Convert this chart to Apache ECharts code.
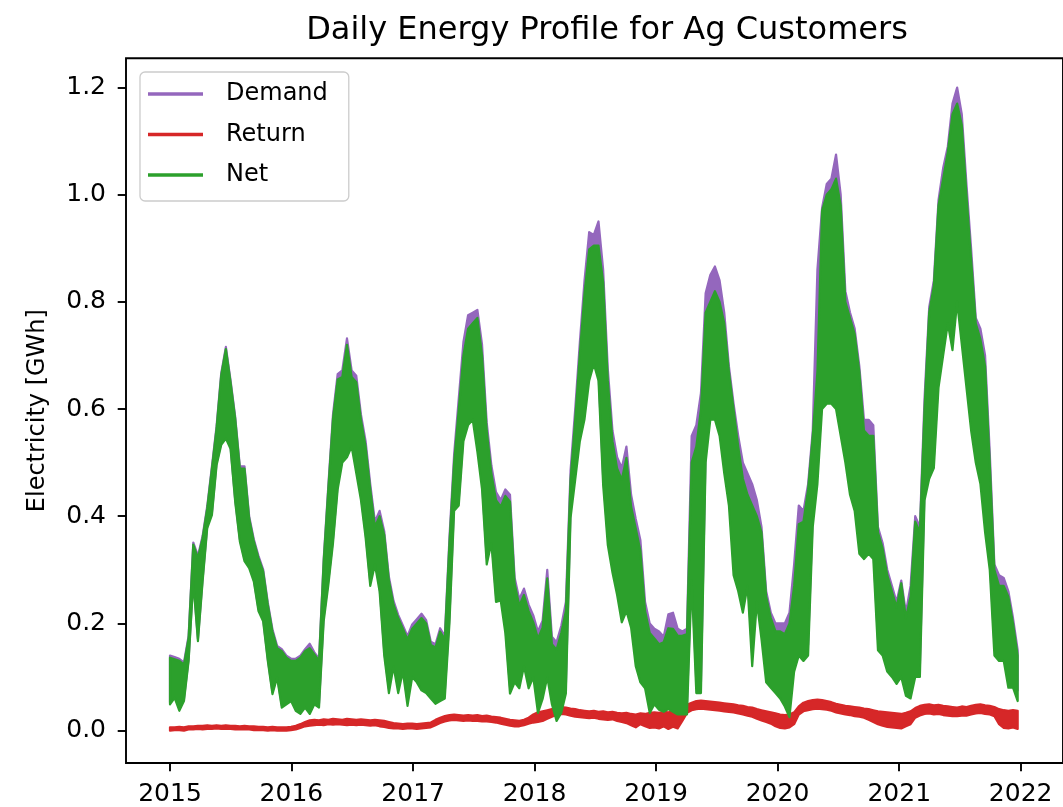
<!DOCTYPE html>
<html>
<head>
<meta charset="utf-8">
<script src="https://cdn.jsdelivr.net/npm/echarts@6/dist/echarts.min.js"></script>
<style>
  html, body { margin: 0; padding: 0; background: #fff; }
  #chart { width: 1063px; height: 807px; }
</style>
</head>
<body>
<div id="chart"></div>
<script>
// ---- Data (GWh) ----
// One sample every 14 days from 2015-01-01; for each sample the upper (High)
// and lower (Low) edge of the noisy daily band.
const sampleStart = '2015-01-01';
const sampleStepDays = 14;

const netHigh = [
  0.136,0.133,0.130,0.123,0.173,0.347,0.322,0.359,0.415,0.489,0.564,0.663,0.712,0.650,0.582,0.489,0.489,0.396,0.353,0.322,0.297,0.235,0.185,0.154,0.148,0.136,
  0.130,0.130,0.136,0.148,0.154,0.142,0.130,0.316,0.452,0.582,0.655,0.660,0.720,0.660,0.650,0.580,0.530,0.450,0.380,0.400,0.365,0.280,0.235,0.210,0.190,0.170,
  0.190,0.200,0.210,0.200,0.160,0.155,0.185,0.170,0.350,0.500,0.600,0.700,0.750,0.760,0.770,0.700,0.560,0.480,0.430,0.418,0.438,0.427,0.274,0.233,0.253,0.223,
  0.202,0.172,0.192,0.284,0.161,0.151,0.182,0.223,0.468,0.581,0.704,0.816,0.898,0.905,0.905,0.837,0.653,0.540,0.489,0.468,0.509,0.418,0.377,0.335,0.223,0.182,
  0.172,0.161,0.165,0.191,0.190,0.177,0.177,0.180,0.500,0.530,0.600,0.780,0.800,0.820,0.800,0.760,0.670,0.600,0.530,0.470,0.440,0.420,0.400,0.370,0.250,0.210,
  0.185,0.185,0.180,0.200,0.270,0.385,0.390,0.450,0.550,0.670,0.970,1.000,1.010,1.030,0.980,0.800,0.770,0.740,0.670,0.560,0.550,0.550,0.370,0.340,0.290,0.260,
  0.230,0.275,0.210,0.250,0.390,0.370,0.600,0.780,0.830,0.980,1.030,1.080,1.150,1.170,1.130,1.000,0.880,0.760,0.730,0.680,0.500,0.300,0.270,0.270,0.250,0.200,0.140
];
const netLow = [
  0.049,0.061,0.037,0.055,0.130,0.278,0.167,0.278,0.378,0.402,0.495,0.533,0.545,0.526,0.427,0.353,0.316,0.303,0.278,0.223,0.204,0.130,0.068,0.099,0.043,0.049,
  0.055,0.037,0.031,0.043,0.031,0.049,0.043,0.204,0.272,0.350,0.450,0.500,0.510,0.530,0.480,0.430,0.360,0.270,0.310,0.260,0.140,0.070,0.120,0.070,0.110,0.046,
  0.100,0.090,0.075,0.070,0.060,0.050,0.055,0.060,0.200,0.410,0.420,0.540,0.570,0.580,0.520,0.450,0.310,0.350,0.240,0.243,0.182,0.069,0.090,0.079,0.120,0.079,
  0.100,0.033,0.059,0.100,0.049,0.018,0.033,0.069,0.397,0.468,0.540,0.581,0.653,0.684,0.653,0.458,0.346,0.295,0.253,0.202,0.223,0.192,0.120,0.090,0.079,0.033,
  0.049,0.039,0.035,0.040,0.035,0.030,0.030,0.030,0.280,0.070,0.070,0.500,0.580,0.580,0.550,0.480,0.420,0.290,0.260,0.220,0.270,0.120,0.240,0.170,0.090,0.080,
  0.070,0.060,0.045,0.025,0.110,0.140,0.130,0.140,0.380,0.460,0.600,0.610,0.610,0.600,0.550,0.500,0.440,0.410,0.330,0.320,0.330,0.320,0.150,0.140,0.110,0.100,
  0.087,0.100,0.065,0.060,0.100,0.100,0.430,0.470,0.490,0.640,0.700,0.760,0.710,0.800,0.720,0.640,0.560,0.500,0.460,0.370,0.300,0.140,0.130,0.130,0.080,0.080,0.055
];
const demandHigh = [
  0.140,0.137,0.134,0.127,0.177,0.351,0.326,0.363,0.419,0.493,0.568,0.667,0.716,0.654,0.586,0.493,0.493,0.400,0.357,0.326,0.301,0.239,0.189,0.158,0.152,0.140,
  0.134,0.134,0.140,0.152,0.162,0.146,0.134,0.320,0.458,0.590,0.665,0.672,0.732,0.672,0.662,0.590,0.540,0.460,0.390,0.410,0.372,0.287,0.242,0.216,0.196,0.176,
  0.198,0.208,0.218,0.206,0.166,0.161,0.191,0.176,0.360,0.515,0.620,0.725,0.775,0.780,0.785,0.720,0.575,0.495,0.445,0.430,0.450,0.440,0.285,0.245,0.265,0.235,
  0.215,0.185,0.205,0.300,0.175,0.165,0.195,0.240,0.485,0.600,0.725,0.840,0.930,0.925,0.950,0.860,0.675,0.560,0.510,0.490,0.530,0.440,0.395,0.355,0.240,0.200,
  0.190,0.185,0.175,0.217,0.220,0.190,0.185,0.190,0.550,0.570,0.630,0.816,0.850,0.866,0.840,0.780,0.680,0.610,0.550,0.500,0.480,0.460,0.430,0.380,0.260,0.220,
  0.200,0.200,0.200,0.220,0.310,0.420,0.410,0.460,0.560,0.860,0.975,1.020,1.030,1.075,1.000,0.820,0.780,0.750,0.680,0.580,0.580,0.570,0.380,0.350,0.300,0.270,
  0.240,0.280,0.220,0.270,0.400,0.380,0.620,0.790,0.840,0.990,1.050,1.090,1.170,1.200,1.150,1.020,0.900,0.770,0.750,0.700,0.520,0.310,0.290,0.285,0.260,0.210,0.150
];
const demandLow = [
  0.053,0.065,0.041,0.059,0.134,0.282,0.171,0.282,0.382,0.406,0.499,0.537,0.549,0.530,0.431,0.357,0.320,0.307,0.282,0.227,0.208,0.134,0.072,0.103,0.047,0.053,
  0.063,0.045,0.039,0.051,0.039,0.057,0.051,0.212,0.280,0.358,0.458,0.508,0.518,0.538,0.488,0.438,0.368,0.278,0.318,0.268,0.148,0.078,0.128,0.078,0.118,0.054,
  0.112,0.102,0.087,0.082,0.072,0.062,0.067,0.072,0.212,0.422,0.432,0.552,0.582,0.592,0.532,0.462,0.322,0.362,0.252,0.255,0.194,0.081,0.102,0.091,0.132,0.091,
  0.115,0.048,0.074,0.115,0.064,0.033,0.048,0.084,0.412,0.483,0.555,0.596,0.668,0.699,0.668,0.473,0.361,0.310,0.268,0.217,0.238,0.207,0.135,0.105,0.094,0.048,
  0.069,0.059,0.055,0.060,0.055,0.050,0.050,0.050,0.300,0.090,0.090,0.520,0.600,0.600,0.570,0.500,0.440,0.310,0.280,0.240,0.290,0.140,0.260,0.190,0.110,0.100,
  0.090,0.080,0.065,0.045,0.130,0.160,0.150,0.160,0.400,0.480,0.620,0.630,0.630,0.620,0.570,0.520,0.460,0.430,0.350,0.340,0.350,0.340,0.170,0.160,0.130,0.120,
  0.107,0.120,0.085,0.080,0.120,0.120,0.450,0.490,0.510,0.660,0.720,0.780,0.730,0.820,0.740,0.660,0.580,0.520,0.480,0.390,0.320,0.160,0.150,0.150,0.100,0.100,0.075
];
const returnHigh = [
  0.006,0.006,0.007,0.006,0.008,0.008,0.009,0.009,0.010,0.009,0.010,0.009,0.010,0.009,0.009,0.008,0.009,0.008,0.008,0.007,0.007,0.006,0.007,0.006,0.006,0.006,
  0.007,0.009,0.012,0.016,0.019,0.020,0.019,0.021,0.020,0.022,0.021,0.020,0.022,0.021,0.020,0.021,0.020,0.019,0.020,0.019,0.018,0.016,0.014,0.013,0.012,0.013,
  0.013,0.012,0.013,0.014,0.015,0.020,0.024,0.027,0.029,0.030,0.029,0.028,0.029,0.028,0.029,0.027,0.028,0.026,0.025,0.024,0.022,0.020,0.019,0.018,0.020,0.024,
  0.030,0.034,0.036,0.038,0.040,0.042,0.044,0.043,0.041,0.040,0.038,0.037,0.036,0.037,0.035,0.036,0.034,0.035,0.033,0.032,0.033,0.031,0.030,0.032,0.031,0.033,
  0.034,0.033,0.035,0.034,0.036,0.035,0.038,0.048,0.052,0.055,0.056,0.055,0.054,0.053,0.052,0.051,0.050,0.049,0.047,0.046,0.044,0.043,0.040,0.038,0.036,0.034,
  0.032,0.030,0.029,0.030,0.034,0.045,0.052,0.055,0.057,0.058,0.057,0.055,0.053,0.050,0.048,0.046,0.045,0.044,0.043,0.041,0.040,0.038,0.036,0.035,0.034,0.033,
  0.032,0.031,0.033,0.036,0.042,0.046,0.048,0.049,0.047,0.048,0.046,0.045,0.044,0.043,0.045,0.044,0.046,0.048,0.049,0.047,0.046,0.044,0.040,0.038,0.037,0.038,0.037
];
const returnLow = [
  0.000,0.001,0.001,0.000,0.002,0.002,0.003,0.002,0.003,0.003,0.004,0.003,0.003,0.003,0.002,0.002,0.002,0.002,0.001,0.001,0.001,0.000,0.001,0.000,0.000,0.000,
  0.001,0.002,0.005,0.008,0.009,0.010,0.011,0.010,0.012,0.011,0.012,0.011,0.010,0.011,0.010,0.011,0.010,0.009,0.010,0.008,0.007,0.005,0.004,0.004,0.003,0.004,
  0.004,0.003,0.004,0.005,0.006,0.010,0.014,0.017,0.019,0.020,0.019,0.018,0.019,0.018,0.018,0.017,0.017,0.016,0.015,0.013,0.011,0.009,0.008,0.008,0.010,0.013,
  0.015,0.016,0.018,0.022,0.026,0.029,0.031,0.030,0.028,0.026,0.025,0.024,0.023,0.024,0.022,0.021,0.020,0.021,0.018,0.016,0.014,0.010,0.006,0.012,0.008,0.005,
  0.006,0.004,0.008,0.003,0.007,0.004,0.018,0.033,0.038,0.040,0.041,0.040,0.039,0.038,0.037,0.036,0.035,0.034,0.032,0.030,0.028,0.026,0.022,0.019,0.016,0.013,
  0.008,0.005,0.004,0.006,0.012,0.030,0.036,0.038,0.040,0.041,0.040,0.039,0.037,0.034,0.032,0.030,0.029,0.027,0.026,0.024,0.020,0.016,0.012,0.009,0.007,0.006,
  0.005,0.004,0.008,0.012,0.024,0.028,0.031,0.032,0.030,0.031,0.029,0.028,0.027,0.027,0.028,0.028,0.030,0.032,0.033,0.031,0.030,0.027,0.012,0.005,0.004,0.006,0.003
];

const seriesNames = ['Demand', 'Return', 'Net'];
const seriesColors = ['#9467bd', '#d62728', '#2ca02c'];
const xTickLabels = ['2015', '2016', '2017', '2018', '2019', '2020', '2021', '2022'];
const yTickValues = [0.0, 0.2, 0.4, 0.6, 0.8, 1.0, 1.2];
const chartTitle = 'Daily Energy Profile for Ag Customers';
const yAxisName = 'Electricity [GWh]';

// ---- Build rows [day, high, low] (x = days since 2015-01-01) ----
const DAY = 86400000;
const t0 = Date.parse(sampleStart + 'T00:00:00Z');
const bandRows = (high, low) => high.map((v, i) => [i * sampleStepDays, v, low[i]]);
const xTickDays = xTickLabels.map(y => Math.round((Date.parse(y + '-01-01T00:00:00Z') - t0) / DAY));
function xLabel(v) {
  const i = xTickDays.indexOf(Math.round(v));
  return i >= 0 ? xTickLabels[i] : '';
}

const FONT = 'DejaVu Sans';
const edgeW = 2.2;

// A band series: the upper and lower edges of the daily values, filled between,
// positioned with the chart's own axes through api.coord.
function bandSeries(idx, high, low) {
  const rows = bandRows(high, low);
  const color = seriesColors[idx];
  return {
    name: seriesNames[idx], type: 'custom', data: rows,
    encode: { x: 0, y: [1, 2] },
    itemStyle: { color },
    clip: true,
    renderItem: function (params, api) {
      if (params.dataIndex !== 0) return null;
      const pts = [];
      for (let i = 0; i < rows.length; i++) pts.push(api.coord([rows[i][0], rows[i][1]]));
      for (let i = rows.length - 1; i >= 0; i--) pts.push(api.coord([rows[i][0], rows[i][2]]));
      return {
        type: 'polygon',
        shape: { points: pts },
        style: { fill: color, stroke: color, lineWidth: edgeW, lineJoin: 'round' }
      };
    }
  };
}

const chart = echarts.init(document.getElementById('chart'), null, { renderer: 'canvas' });
chart.setOption({
  animation: false,
  backgroundColor: '#ffffff',
  textStyle: { fontFamily: FONT },
  title: {
    text: chartTitle,
    left: 602, top: 10, textAlign: 'center',
    textStyle: { fontFamily: FONT, fontSize: 32, fontWeight: 'normal', color: '#000' }
  },
  legend: {
    orient: 'vertical', left: 140, top: 72, z: 10,
    data: seriesNames,
    icon: 'rect', itemWidth: 55, itemHeight: 3.5, itemGap: 12.5,
    padding: [8, 21, 12, 8],
    backgroundColor: 'rgba(255,255,255,0.8)',
    borderColor: '#cccccc', borderWidth: 1.3, borderRadius: 5,
    selectedMode: false,
    textStyle: { fontFamily: FONT, fontSize: 24, lineHeight: 28, color: '#000', padding: [0, 0, 0, 18] }
  },
  grid: {
    left: 126, top: 58.3, width: 952, height: 707.4,
    show: true, borderColor: '#000', borderWidth: 1.9, backgroundColor: 'transparent'
  },
  xAxis: {
    type: 'value',
    min: -132.2,
    max: 2684.2,
    axisLine: { show: false, onZero: false },
    splitLine: { show: false },
    axisTick: { show: true, inside: false, length: 8.3, lineStyle: { color: '#000', width: 1.9 }, customValues: xTickDays },
    axisLabel: {
      customValues: xTickDays,
      formatter: xLabel,
      color: '#000', fontFamily: FONT, fontSize: 25, margin: 19
    }
  },
  yAxis: {
    type: 'value',
    min: -0.0605, max: 1.2545,
    name: yAxisName, nameLocation: 'middle', nameGap: 76,
    nameTextStyle: { fontFamily: FONT, fontSize: 24, color: '#000' },
    axisLine: { show: false, onZero: false },
    splitLine: { show: false },
    axisTick: { show: true, inside: false, length: 8.3, lineStyle: { color: '#000', width: 1.9 }, customValues: yTickValues },
    axisLabel: {
      customValues: yTickValues,
      formatter: v => Number(v).toFixed(1),
      color: '#000', fontFamily: FONT, fontSize: 25, margin: 20
    }
  },
  series: [
    bandSeries(0, demandHigh, demandLow),
    bandSeries(1, returnHigh, returnLow),
    bandSeries(2, netHigh, netLow)
  ]
});
</script>
</body>
</html>
